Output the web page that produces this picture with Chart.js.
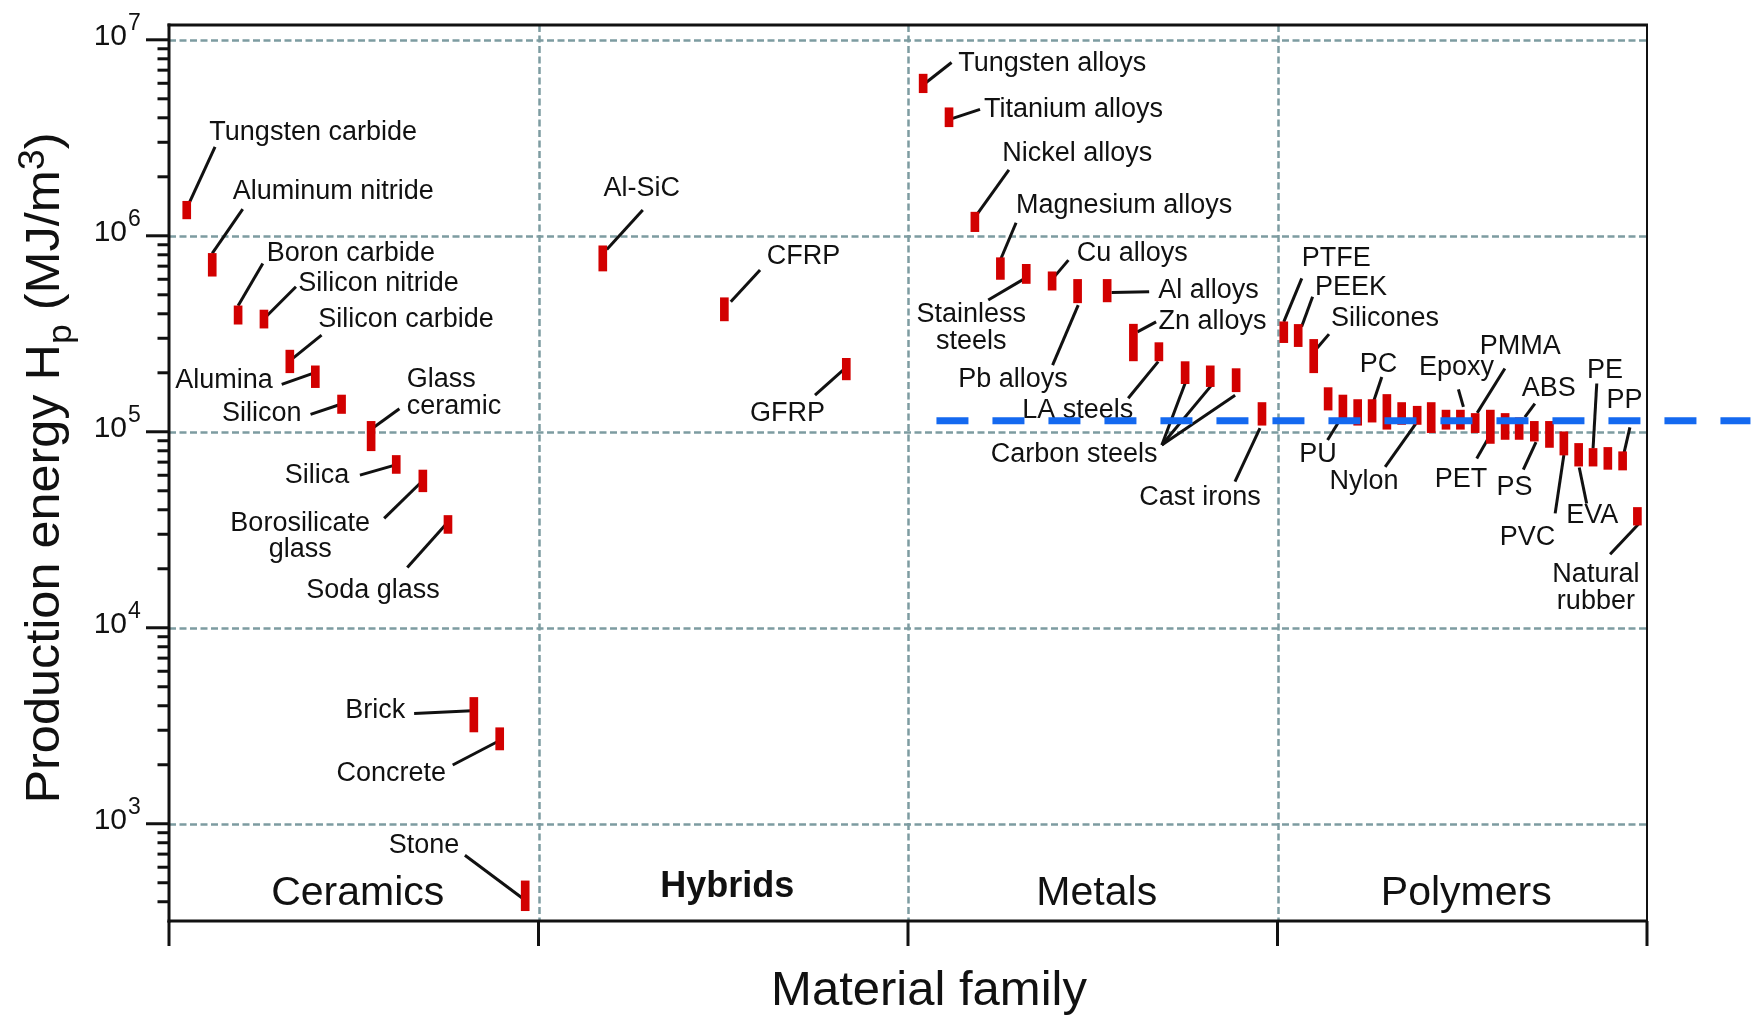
<!DOCTYPE html>
<html>
<head>
<meta charset="utf-8">
<script src="https://cdn.jsdelivr.net/npm/chart.js@4.4.1/dist/chart.umd.min.js"></script>
<style>
html,body{margin:0;padding:0;background:#ffffff;}
#wrap{width:1758px;height:1023px;position:relative;}
canvas{display:block;}
</style>
</head>
<body>
<div id="wrap"><canvas id="c" width="1758" height="1023"></canvas></div>
<script>
// ---------------- data ----------------
const families = ['Ceramics', 'Hybrids', 'Metals', 'Polymers'];
const materials = [
  'Tungsten carbide','Aluminum nitride','Boron carbide','Silicon nitride','Silicon carbide','Alumina','Silicon',
  'Glass ceramic','Silica','Borosilicate glass','Soda glass','Brick','Concrete','Stone',
  'Al-SiC','CFRP','GFRP',
  'Tungsten alloys','Titanium alloys','Nickel alloys','Magnesium alloys','Stainless steels','Cu alloys','Pb alloys',
  'Al alloys','Zn alloys','LA steels','Carbon steels','Carbon steels','Carbon steels','Cast irons',
  'PTFE','PEEK','Silicones','','PU','','PC','','','Nylon','','','Epoxy','PMMA','PET','','ABS','PS','','PVC','EVA','PE','','PP','Natural rubber'
];
// position along the family axis (family index + slot)
const materialX = [
  0.048,0.117,0.187,0.257,0.327,0.396,0.467,0.547,0.615,0.687,0.755,0.825,0.895,0.964,
  1.174,1.503,1.833,
  2.041,2.111,2.181,2.250,2.320,2.390,2.459,2.539,2.610,2.679,2.750,2.818,2.888,2.958,
  3.017,3.056,3.098,3.137,3.177,3.217,3.256,3.296,3.336,3.378,3.416,3.456,3.495,3.535,3.576,3.616,3.654,3.695,3.736,3.775,3.815,3.854,3.894,3.934,3.974
];
const energyLow = [
  1.22e6,6.22e5,3.54e5,3.38e5,2.0e5,1.68e5,1.24e5,8.0e4,6.13e4,4.94e4,3.03e4,2940,2380,360,
  6.61e5,3.68e5,1.84e5,
  5.37e6,3.60e6,1.05e6,5.99e5,5.71e5,5.28e5,4.55e5,4.60e5,2.30e5,2.30e5,1.76e5,1.70e5,1.60e5,1.08e5,
  2.85e5,2.72e5,2.0e5,1.29e5,1.16e5,1.08e5,1.12e5,1.03e5,1.09e5,1.09e5,9.9e4,1.03e5,1.03e5,9.9e4,8.72e4,9.14e4,9.14e4,8.96e4,8.32e4,7.61e4,6.68e4,6.68e4,6.43e4,6.38e4,3.34e4
];
const energyHigh = [
  1.50e6,8.13e5,4.39e5,4.18e5,2.61e5,2.17e5,1.54e5,1.13e5,7.57e4,6.38e4,3.74e4,4410,3090,511,
  8.89e5,4.83e5,2.37e5,
  6.68e6,4.50e6,1.32e6,7.73e5,7.15e5,6.55e5,5.99e5,5.99e5,3.54e5,2.85e5,2.28e5,2.17e5,2.10e5,1.41e5,
  3.64e5,3.53e5,2.96e5,1.68e5,1.54e5,1.46e5,1.46e5,1.55e5,1.41e5,1.35e5,1.41e5,1.29e5,1.29e5,1.24e5,1.29e5,1.24e5,1.18e5,1.13e5,1.13e5,1.0e5,8.72e4,8.22e4,8.32e4,7.91e4,4.11e4
];
const thresholdValue = 1.137e5;
const thresholdX = [2.077, 4.28];
const yTickExponents = [3, 4, 5, 6, 7];
const xTitle = 'Material family';
const yTitleParts = [['Production energy H', 'n'], ['p', 'sub'], [' (MJ/m', 'n'], ['3', 'sup'], [')', 'n']];

// ---------------- label layout (pixel offsets from each bar's top centre) ----------------
const labelLayout = [
  {i:0, align:'left', tx:22.6, ty:-61.7, from:[[0,0,7]], to:[28.3,-54.3]},
  {i:1, align:'left', tx:20.5, ty:-54, from:[[1,0,0]], to:[30.5,-44.3]},
  {i:2, align:'left', tx:28.7, ty:-45, from:[[2,0,0]], to:[24.7,-42.4]},
  {i:3, align:'left', tx:34.3, ty:-19.3, from:[[3,2,6.7]], to:[32,-23.3]},
  {i:4, align:'left', tx:28.3, ty:-23.3, from:[[4,1.7,9.3]], to:[31.7,-15]},
  {i:5, align:'right', tx:-42.6, ty:22.6, from:[[5,-1,7]], to:[-33.6,18.6]},
  {i:6, align:'right', tx:-40, ty:26, from:[[6,0,9]], to:[-31,19.3]},
  {i:7, align:'left', tx:35.7, ty:-34.3, br:true, gap:27.3, from:[[7,0.7,7.3]], to:[28.3,-12.7]},
  {i:8, align:'right', tx:-47, ty:28, from:[[8,-1.3,9.7]], to:[-36.3,19.7]},
  {i:9, align:'center', tx:-122.7, ty:60.7, br:true, gap:26, from:[[9,0.6,10]], to:[-38.7,48.3]},
  {i:10, align:'center', tx:-75, ty:83, from:[[10,0,6.4]], to:[-40.7,52]},
  {i:11, align:'right', tx:-68.7, ty:21, from:[[11,-2,13.4]], to:[-59.7,16]},
  {i:12, align:'right', tx:-53.7, ty:53, from:[[12,-2.4,14]], to:[-47,37.3]},
  {i:13, align:'right', tx:-66, ty:-27.4, from:[[13,0,19.3]], to:[-60.3,-25.7]},
  {i:14, align:'left', tx:0.6, ty:-49.7, from:[[14,4,3.6]], to:[40,-35.7]},
  {i:15, align:'left', tx:42.4, ty:-33.7, from:[[15,6.4,4]], to:[35.7,-27.7]},
  {i:16, align:'left', tx:-96.3, ty:62.7, from:[[16,-1.3,10]], to:[-31.3,36.7]},
  {i:17, align:'left', tx:35, ty:-3.3, from:[[17,1.7,9.3]], to:[28.4,-11.7]},
  {i:18, align:'left', tx:35, ty:9.6, from:[[18,3.7,10.6]], to:[31,1.6]},
  {i:19, align:'left', tx:27.4, ty:-51, from:[[19,3,1]], to:[34,-42.4]},
  {i:20, align:'left', tx:15.7, ty:-45, from:[[20,0,2.3]], to:[15.7,-35]},
  {i:21, align:'center', tx:-55, ty:57.4, br:true, gap:27.6, from:[[21,-1.3,14]], to:[-38,35.7]},
  {i:22, align:'left', tx:24.7, ty:-11, from:[[22,0,7.6]], to:[16.3,-11.7]},
  {i:23, align:'left', tx:-119.4, ty:107.4, from:[[23,0.6,25.7]], to:[-25,85.7]},
  {i:24, align:'left', tx:51, ty:19, from:[[24,4.4,13]], to:[42,12.4]},
  {i:25, align:'left', tx:25, ty:5, from:[[25,4,7.7]], to:[22.7,-2.3]},
  {i:26, align:'right', tx:-25.7, ty:75.6, from:[[26,-0.7,19]], to:[-30.7,55.6]},
  {i:27, align:'right', tx:-27.7, ty:100, from:[[27,0,21.6],[28,1.4,19.3],[29,-1,26.7]], to:[-23.3,83.3]},
  {i:30, align:'right', tx:-1.3, ty:102.3, from:[[30,-2,25.6]], to:[-27,79]},
  {i:31, align:'left', tx:18, ty:-56, from:[[31,0,0]], to:[18,-43.4]},
  {i:32, align:'left', tx:16.7, ty:-29.3, from:[[32,3.4,2.4]], to:[14.4,-27.6]},
  {i:33, align:'left', tx:17.3, ty:-13.6, from:[[33,3,9]], to:[15.3,-5.3]},
  {i:35, align:'center', tx:-25, ty:67.3, from:[[35,2,16.7]], to:[-15.3,45]},
  {i:37, align:'center', tx:6.5, ty:-27.6, from:[[37,1.3,2.4]], to:[9.7,-22.6]},
  {i:40, align:'center', tx:-53.2, ty:82.3, from:[[40,-1.3,17.3]], to:[-32,60.7]},
  {i:43, align:'center', tx:-4, ty:-35, from:[[43,3,-3.3]], to:[-2,-20.7]},
  {i:44, align:'center', tx:45, ty:-59.3, from:[[44,2,-0.6]], to:[29.7,-45]},
  {i:45, align:'center', tx:-29.3, ty:76.7, from:[[45,0.4,24]], to:[-13.6,48.3]},
  {i:47, align:'center', tx:29.7, ty:-21.6, from:[[47,5.7,-0.6]], to:[15.7,-14]},
  {i:48, align:'center', tx:-19.8, ty:74, from:[[48,1.7,20.7]], to:[-11,48.3]},
  {i:50, align:'center', tx:-36.4, ty:113.3, from:[[50,0,23.3]], to:[-8.7,81.6]},
  {i:51, align:'center', tx:13.5, ty:79.4, from:[[51,0.6,24]], to:[8,60]},
  {i:52, align:'center', tx:12, ty:-70.6, from:[[52,0,0]], to:[3.7,-65]},
  {i:54, align:'center', tx:1.8, ty:-44, from:[[54,1.3,1.6]], to:[7.3,-24.4]},
  {i:55, align:'center', tx:-41.5, ty:74.4, br:true, gap:27.3, from:[[55,1,16.7]], to:[-27.3,46.7]}
];

const FONT = '"Liberation Sans", Arial, Helvetica, sans-serif';
const INK = '#111111';
const GRID = '#7d9ca1';

function decorBefore(chart) {
  const ctx = chart.ctx, X = chart.scales.x, Y = chart.scales.y, A = chart.chartArea;
  ctx.save();
  // dashed grid
  ctx.strokeStyle = GRID; ctx.lineWidth = 2.5; ctx.setLineDash([7, 3.5]);
  yTickExponents.forEach(e => {
    const y = Math.round(Y.getPixelForValue(Math.pow(10, e))) + 0.5;
    ctx.beginPath(); ctx.moveTo(A.left, y); ctx.lineTo(A.right, y); ctx.stroke();
  });
  for (let k = 1; k < families.length; k++) {
    const x = Math.round(X.getPixelForValue(k)) + 0.5;
    ctx.beginPath(); ctx.moveTo(x, A.top); ctx.lineTo(x, A.bottom); ctx.stroke();
  }
  ctx.setLineDash([]);
  // leader lines and labels
  const anchor = i => [X.getPixelForValue(materialX[i]), Y.getPixelForValue(energyHigh[i])];
  ctx.strokeStyle = INK; ctx.lineWidth = 3; ctx.lineCap = 'butt';
  ctx.fillStyle = INK; ctx.font = '27px ' + FONT; ctx.textBaseline = 'alphabetic';
  labelLayout.forEach(a => {
    const [ax, ay] = anchor(a.i);
    const ex = ax + a.to[0], ey = ay + a.to[1];
    a.from.forEach(f => {
      const [bx, by] = anchor(f[0]);
      ctx.beginPath(); ctx.moveTo(bx + f[1], by + f[2]); ctx.lineTo(ex, ey); ctx.stroke();
    });
    const lines = a.br ? materials[a.i].split(' ') : [materials[a.i]];
    ctx.textAlign = a.align;
    lines.forEach((s, k) => ctx.fillText(s, ax + a.tx, ay + a.ty + k * (a.gap || 27)));
  });
  ctx.restore();
}

function decorAfter(chart) {
  const ctx = chart.ctx, X = chart.scales.x, Y = chart.scales.y, A = chart.chartArea;
  ctx.save();
  ctx.strokeStyle = INK; ctx.fillStyle = INK;
  // frame
  ctx.lineWidth = 3;
  ctx.beginPath(); ctx.moveTo(A.left - 1.5, A.top); ctx.lineTo(A.right + 1, A.top); ctx.stroke();
  ctx.beginPath(); ctx.moveTo(A.left, A.top - 1.5); ctx.lineTo(A.left, A.bottom + 1.5); ctx.stroke();
  ctx.beginPath(); ctx.moveTo(A.left - 1.5, A.bottom); ctx.lineTo(A.right + 1, A.bottom); ctx.stroke();
  ctx.lineWidth = 2;
  ctx.beginPath(); ctx.moveTo(A.right, A.top); ctx.lineTo(A.right, A.bottom); ctx.stroke();
  // y ticks (major at decades, minor between)
  ctx.lineWidth = 3;
  const yMin = Y.min, yMax = Y.max;
  for (let e = Math.floor(Math.log10(yMin)); e <= Math.ceil(Math.log10(yMax)); e++) {
    for (let m = 1; m <= 9; m++) {
      const v = m * Math.pow(10, e);
      if (v < yMin || v > yMax) continue;
      const y = Y.getPixelForValue(v);
      const len = m === 1 ? 23 : 11.5;
      ctx.beginPath(); ctx.moveTo(A.left - len, y); ctx.lineTo(A.left, y); ctx.stroke();
    }
  }
  // x ticks at family boundaries
  for (let k = 0; k <= families.length; k++) {
    const x = X.getPixelForValue(k);
    ctx.beginPath(); ctx.moveTo(x, A.bottom); ctx.lineTo(x, A.bottom + 25); ctx.stroke();
  }
  // y tick labels 10^n
  yTickExponents.forEach(e => {
    const y = Y.getPixelForValue(Math.pow(10, e));
    ctx.textBaseline = 'alphabetic';
    ctx.font = '30px ' + FONT; ctx.textAlign = 'right';
    ctx.fillText('10', A.left - 42, y + 5.5);
    ctx.font = '23px ' + FONT; ctx.textAlign = 'left';
    ctx.fillText(String(e), A.left - 41, y - 9.5);
  });
  // family labels
  ctx.textAlign = 'center';
  families.forEach((f, k) => {
    const x = X.getPixelForValue(k + 0.5) + 4;
    if (f === 'Hybrids') { ctx.font = 'bold 36px ' + FONT; ctx.fillText(f, x, A.bottom - 24); }
    else { ctx.font = '41px ' + FONT; ctx.fillText(f, x, A.bottom - 16); }
  });
  // x title
  ctx.font = '49px ' + FONT;
  ctx.fillText(xTitle, (A.left + A.right) / 2 + 21, A.bottom + 84);
  // y title (rotated, with sub/superscript)
  ctx.save();
  ctx.translate(59, 468);
  ctx.rotate(-Math.PI / 2);
  ctx.scale(1.05, 1);
  const sz = {n: 48, sub: 34, sup: 36};
  const dy = {n: 0, sub: 12, sup: -15};
  let total = 0;
  yTitleParts.forEach(p => { ctx.font = sz[p[1]] + 'px ' + FONT; total += ctx.measureText(p[0]).width; });
  let cx = -total / 2;
  ctx.textAlign = 'left';
  yTitleParts.forEach(p => {
    ctx.font = sz[p[1]] + 'px ' + FONT;
    ctx.fillText(p[0], cx, dy[p[1]]);
    cx += ctx.measureText(p[0]).width;
  });
  ctx.restore();
  ctx.restore();
}

const decorPlugin = { id: 'decor', beforeDatasetsDraw: decorBefore, afterDatasetsDraw: decorAfter };

new Chart(document.getElementById('c'), {
  type: 'bar',
  data: {
    datasets: [
      {
        type: 'line',
        label: 'threshold',
        data: thresholdX.map(x => ({x: x, y: thresholdValue})),
        borderColor: '#1469f0',
        borderWidth: 7,
        borderDash: [32, 24],
        borderCapStyle: 'butt',
        pointRadius: 0,
        fill: false,
        clip: false,
        order: 0
      },
      {
        type: 'bar',
        label: 'Production energy',
        data: materials.map((n, i) => ({x: materialX[i], y: [energyLow[i], energyHigh[i]]})),
        backgroundColor: '#d20000',
        borderWidth: 0,
        barThickness: 8,
        order: 1
      }
    ]
  },
  options: {
    responsive: false,
    animation: false,
    devicePixelRatio: 1,
    layout: { padding: { left: 169, right: 111, top: 25, bottom: 102 } },
    scales: {
      x: { type: 'linear', min: 0, max: 4, offset: false, display: false },
      y: { type: 'logarithmic', min: 319, max: 1.19e7, display: false }
    },
    plugins: { legend: { display: false }, tooltip: { enabled: false } }
  },
  plugins: [decorPlugin]
});
</script>
</body>
</html>
